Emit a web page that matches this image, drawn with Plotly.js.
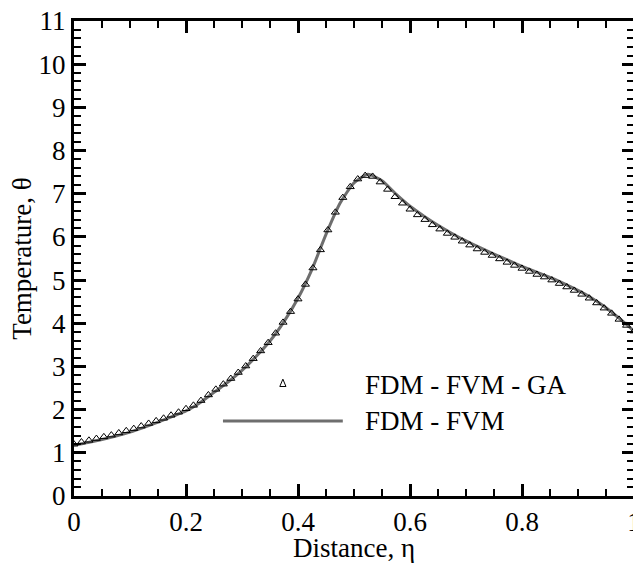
<!DOCTYPE html>
<html>
<head>
<meta charset="utf-8">
<script src="https://cdn.plot.ly/plotly-3.0.1.min.js"></script>
<style>
html, body { margin: 0; padding: 0; overflow: hidden; background: #fff; }
#chart { width: 636px; height: 563px; }
</style>
</head>
<body>
<div id="chart"></div>
<script>
// FDM - FVM - GA (triangles)
const gaX = [0.0000,0.0133,0.0267,0.0400,0.0533,0.0667,0.0800,0.0933,0.1067,0.1200,
  0.1333,0.1467,0.1600,0.1733,0.1867,0.2000,0.2133,0.2267,0.2400,0.2533,
  0.2667,0.2800,0.2933,0.3067,0.3200,0.3333,0.3467,0.3600,0.3733,0.3867,
  0.4000,0.4133,0.4267,0.4400,0.4533,0.4667,0.4800,0.4933,0.5067,0.5200,
  0.5333,0.5467,0.5600,0.5733,0.5867,0.6000,0.6133,0.6267,0.6400,0.6533,
  0.6667,0.6800,0.6933,0.7067,0.7200,0.7333,0.7467,0.7600,0.7733,0.7867,
  0.8000,0.8133,0.8267,0.8400,0.8533,0.8667,0.8800,0.8933,0.9067,0.9200,
  0.9333,0.9467,0.9600,0.9733,0.9867,1.0000];
const gaY = [1.20,1.25,1.29,1.33,1.37,1.41,1.46,1.51,1.56,1.62,
  1.68,1.74,1.80,1.87,1.94,2.02,2.10,2.21,2.34,2.47,
  2.59,2.72,2.86,3.01,3.18,3.36,3.55,3.77,4.02,4.27,
  4.56,4.90,5.28,5.70,6.16,6.57,6.91,7.16,7.34,7.42,
  7.40,7.27,7.10,6.93,6.78,6.64,6.51,6.40,6.28,6.18,
  6.08,5.99,5.90,5.81,5.72,5.64,5.57,5.49,5.41,5.34,
  5.27,5.20,5.13,5.07,5.00,4.92,4.84,4.76,4.67,4.58,
  4.47,4.35,4.23,4.09,3.95,3.82];

// FDM - FVM (solid line)
const fvmX = [0,0.025,0.05,0.075,0.1,0.125,0.15,0.175,0.2,0.225,
  0.25,0.275,0.3,0.325,0.35,0.375,0.4,0.425,0.45,0.475,
  0.5,0.525,0.55,0.575,0.6,0.625,0.65,0.675,0.7,0.725,
  0.75,0.775,0.8,0.825,0.85,0.875,0.9,0.925,0.95,0.975,1.0];
const fvmY = [1.18,1.24,1.31,1.39,1.48,1.59,1.71,1.84,1.97,2.16,
  2.40,2.64,2.91,3.23,3.59,4.04,4.58,5.25,6.06,6.78,
  7.25,7.45,7.30,6.99,6.71,6.48,6.27,6.08,5.91,5.75,
  5.60,5.46,5.32,5.19,5.06,4.92,4.76,4.58,4.36,4.10,3.82];

const legendNames = ["FDM - FVM - GA", "FDM - FVM"];
const xTickVals = [0, 0.2, 0.4, 0.6, 0.8, 1];
const xTickText = ["0", "0.2", "0.4", "0.6", "0.8", "1"];
const xTitle = "Distance, η";
const yTitle = "Temperature, θ";

const FONT = "'Liberation Serif', 'Times New Roman', serif";

const traces = [
  { x: fvmX, y: fvmY, mode: "lines", name: legendNames[1], showlegend: false,
    line: { color: "#6e6e6e", width: 3, shape: "spline", smoothing: 0.6 } },
  { x: gaX, y: gaY, mode: "markers", name: legendNames[0], showlegend: false,
    marker: { symbol: "triangle-up-open", size: 7, color: "#000", line: { width: 1, color: "#000" } } }
];

const axisCommon = {
  showline: true, linecolor: "#000", linewidth: 3, mirror: "allticks",
  ticks: "inside", ticklen: 12, tickwidth: 3, tickcolor: "#000",
  showgrid: false, zeroline: false, ticklabeloverflow: "allow",
  tickfont: { family: FONT, size: 27, color: "#000" }
};

const layout = {
  width: 636, height: 563,
  margin: { l: 74, r: 2, t: 21, b: 67 },
  paper_bgcolor: "#fff", plot_bgcolor: "#fff",
  font: { family: FONT, color: "#000" },
  showlegend: false,
  xaxis: Object.assign({}, axisCommon, {
    range: [0, 1], tickmode: "array", tickvals: xTickVals, ticktext: xTickText,
    minor: { ticks: "inside", ticklen: 7, tickwidth: 2, tickcolor: "#000", dtick: 0.05, tick0: 0, showgrid: false },
    title: { text: xTitle, font: { family: FONT, size: 27, color: "#000" }, standoff: 0 }
  }),
  yaxis: Object.assign({}, axisCommon, {
    range: [0, 11], dtick: 1, tick0: 0,
    minor: { ticks: "inside", ticklen: 7, tickwidth: 2, tickcolor: "#000", dtick: 0.2, showgrid: false },
    title: { text: yTitle, font: { family: FONT, size: 27, color: "#000" }, standoff: 0 }
  }),
  shapes: [
    { type: "line", xref: "paper", yref: "paper", x0: 0.266, x1: 0.480, y0: 0.158, y1: 0.158,
      line: { color: "#6e6e6e", width: 3 } },
    { type: "path", xref: "paper", yref: "paper",
      path: "M 0.3675 0.2305 L 0.3785 0.2305 L 0.373 0.246 Z",
      line: { color: "#000", width: 1 }, fillcolor: "rgba(0,0,0,0)" }
  ],
  annotations: [
    { xref: "paper", yref: "paper", x: 0.516, y: 0.234, xanchor: "left", yanchor: "middle",
      text: legendNames[0], showarrow: false, font: { family: FONT, size: 27, color: "#000" } },
    { xref: "paper", yref: "paper", x: 0.516, y: 0.158, xanchor: "left", yanchor: "middle",
      text: legendNames[1], showarrow: false, font: { family: FONT, size: 27, color: "#000" } }
  ]
};

Plotly.newPlot("chart", traces, layout, { displayModeBar: false, staticPlot: true });
</script>
</body>
</html>
